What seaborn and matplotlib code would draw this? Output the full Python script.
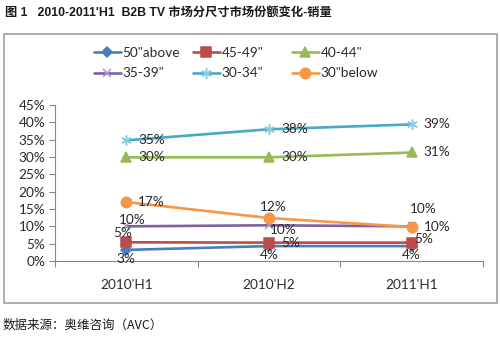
import matplotlib
matplotlib.use("Agg")
import matplotlib.pyplot as plt
import seaborn as sns
import pandas as pd
from matplotlib.patches import Rectangle

# Half-year periods and share (%) per TV size band
periods = ["2010'H1", "2010'H2", "2011'H1"]
series = ['50"above', '45-49"', '40-44"', '35-39"', '30-34"', '30"below']
share_50_above = [3.2, 4.3, 4.3]
share_45_49 = [5.4, 5.3, 5.3]
share_40_44 = [29.9, 29.9, 31.3]
share_35_39 = [10.0, 10.3, 10.0]
share_30_34 = [34.8, 38.0, 39.4]
share_30_below = [17.0, 12.4, 9.8]
yticks = [0, 5, 10, 15, 20, 25, 30, 35, 40, 45]

values = [share_50_above, share_45_49, share_40_44,
          share_35_39, share_30_34, share_30_below]

colors = {
    '50"above': "#4A7EBB",
    '45-49"': "#BE4B48",
    '40-44"': "#98B954",
    '35-39"': "#7D60A0",
    '30-34"': "#46AAC5",
    '30"below': "#F79646",
}
markers = {
    '50"above': "D",
    '45-49"': "s",
    '40-44"': "^",
    '35-39"': "x",
    '30-34"': (6, 2, 0),
    '30"below': "o",
}
marker_sizes = {
    '50"above': 5,
    '45-49"': 6.5,
    '40-44"': 7,
    '35-39"': 6,
    '30-34"': 7.5,
    '30"below': 7.5,
}
marker_edge = {
    '50"above': "#4A7EBB",
    '45-49"': "#BE4B48",
    '40-44"': "#98B954",
    '35-39"': "#a99bc4",
    '30-34"': "#8ccbe0",
    '30"below': "#F79646",
}

# label placement per series/point: (dx px, dy px, ha, va)
R = (12, 0, "left", "center")
label_pos = {
    '50"above': [(0, -3, "center", "top")] * 3,
    '45-49"': [(-4, 3, "center", "bottom"), (12, 0, "left", "center"), (3, 4, "left", "center")],
    '40-44"': [R, R, R],
    '35-39"': [(6, 0, "center", "bottom"), (1, 1, "left", "top"), (12, 11, "center", "bottom")],
    '30-34"': [R, R, R],
    '30"below': [R, (4, 5, "center", "bottom"), R],
}

sns.set_theme(style="white")
plt.rcParams["font.family"] = ["Lato", "DejaVu Sans"]

W, H = 500, 339
fig = plt.figure(figsize=(5.0, 3.39), dpi=100)
ax = fig.add_axes([55 / W, 1 - 261 / H, (483 - 55) / W, (261 - 105) / H])

for name, vals in zip(series, values):
    df = pd.DataFrame({"period": periods, "share": vals})
    sns.lineplot(
        data=df, x="period", y="share", color=colors[name], marker=markers[name],
        markersize=marker_sizes[name], markeredgewidth=1.1,
        markeredgecolor=marker_edge[name], linewidth=1.9, sort=False, label=name, ax=ax,
    )

handles, labels = ax.get_legend_handles_labels()
ax.get_legend().remove()

# data labels
for name, vals in zip(series, values):
    for i, v in enumerate(vals):
        dx, dy, ha, va = label_pos[name][i]
        ax.annotate(f"{v:.0f}%", (i, v), xytext=(dx, dy), textcoords="offset pixels",
                    ha=ha, va=va, fontsize=9.8, color="#2b2b2b")

ax.set_xlim(-0.5, len(periods) - 0.5)
ax.set_ylim(0, 45)
ax.set_yticks(yticks)
ax.set_yticklabels([f"{t}%" for t in yticks])
ax.set_xlabel("")
ax.set_ylabel("")
ax.set_xticks(range(len(periods)))
ax.set_xticklabels(periods)
ax.set_xticks([i - 0.5 for i in range(len(periods) + 1)], minor=True)
ax.tick_params(axis="x", which="major", length=0, pad=13, labelsize=9.8, labelcolor="#2b2b2b")
ax.tick_params(axis="x", which="minor", length=4, width=0.8, color="#868686", direction="out", bottom=True)
ax.tick_params(axis="y", length=4, width=0.8, color="#868686", direction="out", left=True,
               pad=3, labelsize=9.8, labelcolor="#2b2b2b")
for side in ("top", "right"):
    ax.spines[side].set_visible(False)
for side in ("left", "bottom"):
    ax.spines[side].set_color("#868686")
    ax.spines[side].set_linewidth(0.8)
ax.grid(False)
ax.patch.set_alpha(0)

# legend: three columns of two rows each
col_x = [94, 193, 292]
for c, x0 in enumerate(col_x):
    idx = [c, c + 3]
    fig.legend([handles[k] for k in idx], [labels[k] for k in idx],
               loc="upper left", bbox_to_anchor=(x0 / W, 1 - 47 / H),
               frameon=False, borderpad=0, borderaxespad=0, fontsize=9.8,
               handlelength=1.95, handletextpad=0.15, labelspacing=0.62,
               labelcolor="#2b2b2b")

# chart frame
fig.patches.append(Rectangle((3.5 / W, 1 - 303 / H), (497 - 3.5) / W, (303 - 34) / H,
                             transform=fig.transFigure, fill=False,
                             edgecolor="#a0a0a0", linewidth=1.2))

fig.text(5 / W, 1 - 13 / H, "图 1   2010-2011'H1  B2B TV 市场分尺寸市场份额变化-销量",
         family=["Liberation Sans", "Noto Sans CJK SC"], fontweight="bold",
         fontsize=8.8, color="#1a1a1a", va="center", ha="left")
fig.text(3 / W, 1 - 325 / H, "数据来源：奥维咨询（AVC）",
         family=["Noto Sans CJK SC", "DejaVu Sans"], fontsize=9.0,
         color="#1a1a1a", va="center", ha="left")

fig.savefig("out.png", dpi=100)
